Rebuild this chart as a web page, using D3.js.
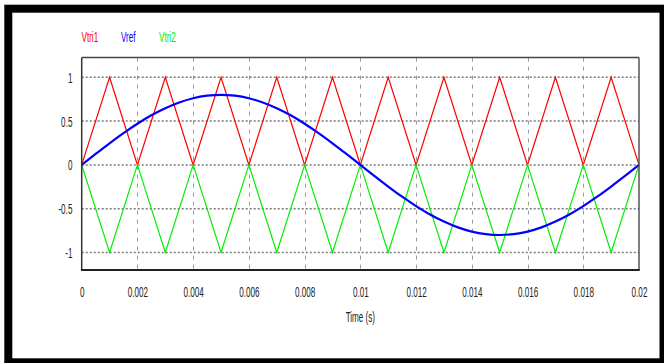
<!DOCTYPE html>
<html>
<head>
<meta charset="utf-8">
<script src="https://cdn.jsdelivr.net/npm/d3@7"></script>
<style>
  html, body { margin: 0; padding: 0; background: #fff; }
  svg { display: block; }
  text { font-family: "Liberation Sans", Arial, sans-serif; }
</style>
</head>
<body>
<svg id="chart" width="664" height="363"></svg>
<script>
// Carrier triangle waves (vertices every 0.001 s)
const triTime = [0, 0.001, 0.002, 0.003, 0.004, 0.005, 0.006, 0.007, 0.008, 0.009, 0.010,
                 0.011, 0.012, 0.013, 0.014, 0.015, 0.016, 0.017, 0.018, 0.019, 0.020];
const vtri1 = [0, 1, 0, 1, 0, 1, 0, 1, 0, 1, 0, 1, 0, 1, 0, 1, 0, 1, 0, 1, 0];
const vtri2 = [0, -1, 0, -1, 0, -1, 0, -1, 0, -1, 0, -1, 0, -1, 0, -1, 0, -1, 0, -1, 0];

// Reference signal sampled every 0.0005 s
const refTime = [0, 0.0005, 0.001, 0.0015, 0.002, 0.0025, 0.003, 0.0035, 0.004, 0.0045,
                 0.005, 0.0055, 0.006, 0.0065, 0.007, 0.0075, 0.008, 0.0085, 0.009, 0.0095,
                 0.010, 0.0105, 0.011, 0.0115, 0.012, 0.0125, 0.013, 0.0135, 0.014, 0.0145,
                 0.015, 0.0155, 0.016, 0.0165, 0.017, 0.0175, 0.018, 0.0185, 0.019, 0.0195, 0.020];
const vref = [0, 0.125, 0.247, 0.363, 0.470, 0.566, 0.647, 0.713, 0.761, 0.790,
              0.800, 0.790, 0.761, 0.713, 0.647, 0.566, 0.470, 0.363, 0.247, 0.125,
              0, -0.125, -0.247, -0.363, -0.470, -0.566, -0.647, -0.713, -0.761, -0.790,
              -0.800, -0.790, -0.761, -0.713, -0.647, -0.566, -0.470, -0.363, -0.247, -0.125, 0];

const xTicks = [0, 0.002, 0.004, 0.006, 0.008, 0.01, 0.012, 0.014, 0.016, 0.018, 0.02];
const xTickLabels = ["0", "0.002", "0.004", "0.006", "0.008", "0.01", "0.012", "0.014", "0.016", "0.018", "0.02"];
const yTicks = [1, 0.5, 0, -0.5, -1];
const yTickLabels = ["1", "0.5", "0", "-0.5", "-1"];

const legendNames = ["Vtri1", "Vref", "Vtri2"];
const legendColors = ["#ff0000", "#0000ff", "#00ee00"];

const squeeze = 0.58; // condensed lettering

const svg = d3.select("#chart");

// outer black frame
svg.append("rect")
  .attr("x", 8.3).attr("y", 8.7)
  .attr("width", 655.2).attr("height", 353.6)
  .attr("fill", "none").attr("stroke", "#000").attr("stroke-width", 8);

const x = d3.scaleLinear().domain([0, 0.02]).range([81.7, 639]);
const y = d3.scaleLinear().domain([-1, 1]).range([252.5, 77.3]);
const plotTop = y(1.225), plotBottom = y(-1.2);

// grid
const grid = svg.append("g");
grid.selectAll("line.v").data(xTicks.slice(1, -1)).join("line")
  .attr("class", "v")
  .attr("x1", d => Math.round(x(d)) + 0.5).attr("x2", d => Math.round(x(d)) + 0.5)
  .attr("y1", plotTop).attr("y2", plotBottom)
  .attr("stroke", "#9a9a9a").attr("stroke-width", 1)
  .attr("stroke-dasharray", "4,5");
grid.selectAll("line.h").data(yTicks).join("line")
  .attr("class", "h")
  .attr("x1", x(0)).attr("x2", x(0.02))
  .attr("y1", d => y(d)).attr("y2", d => y(d))
  .attr("stroke", "#7a7a7a").attr("stroke-width", 1.5)
  .attr("stroke-dasharray", "2,2");

// series
const triLine = vals => d3.line().x((d, i) => x(triTime[i])).y(d => y(d))(vals);
svg.append("path").attr("d", triLine(vtri1))
  .attr("fill", "none").attr("stroke", legendColors[0]).attr("stroke-width", 1.2);
svg.append("path").attr("d", triLine(vtri2))
  .attr("fill", "none").attr("stroke", legendColors[2]).attr("stroke-width", 1.2);
svg.append("path")
  .attr("d", d3.line().curve(d3.curveMonotoneX)
    .x((d, i) => x(refTime[i])).y(d => y(d))(vref))
  .attr("fill", "none").attr("stroke", legendColors[1]).attr("stroke-width", 2.2);

// plot frame
svg.append("line").attr("x1", x(0)).attr("x2", x(0.02)).attr("y1", plotTop).attr("y2", plotTop)
  .attr("stroke", "#444").attr("stroke-width", 1.5);
svg.append("line").attr("x1", x(0.02)).attr("x2", x(0.02)).attr("y1", plotTop).attr("y2", plotBottom)
  .attr("stroke", "#555").attr("stroke-width", 1.5);
svg.append("line").attr("x1", x(0)).attr("x2", x(0)).attr("y1", plotTop).attr("y2", plotBottom)
  .attr("stroke", "#333").attr("stroke-width", 1.5);
svg.append("line").attr("x1", x(0) - 0.75).attr("x2", x(0.02) + 0.75).attr("y1", plotBottom).attr("y2", plotBottom)
  .attr("stroke", "#222").attr("stroke-width", 2.2);

// x axis labels
const xAxis = d3.axisBottom(x).tickValues(xTicks)
  .tickFormat((d, i) => xTickLabels[i]).tickSize(0);
const gx = svg.append("g").attr("transform", `translate(0,${plotBottom})`).call(xAxis);
gx.select(".domain").remove();
gx.selectAll("text")
  .attr("y", 0).attr("dy", null)
  .attr("transform", `translate(0,27) scale(${squeeze},1)`)
  .attr("font-size", 14).attr("fill", "#222");

// y axis labels
const yAxis = d3.axisLeft(y).tickValues(yTicks)
  .tickFormat((d, i) => yTickLabels[i]).tickSize(0);
const gy = svg.append("g").attr("transform", `translate(${x(0)},0)`).call(yAxis);
gy.select(".domain").remove();
gy.selectAll("text")
  .attr("x", 0).attr("dy", null).attr("y", 0)
  .attr("transform", `translate(-9.3,5) scale(${squeeze},1)`)
  .attr("font-size", 14).attr("fill", "#222");

// axis title
svg.append("text")
  .attr("transform", `translate(${x(0.01)},321.5) scale(${squeeze},1)`)
  .attr("text-anchor", "middle").attr("font-size", 14).attr("fill", "#222")
  .text("Time (s)");

// legend
const legendX = [81.5, 121, 159];
svg.append("g").selectAll("text").data(legendNames).join("text")
  .attr("transform", (d, i) => `translate(${legendX[i]},41.5) scale(${squeeze},1)`)
  .attr("font-size", 14)
  .attr("fill", (d, i) => legendColors[i])
  .text(d => d);
</script>
</body>
</html>
